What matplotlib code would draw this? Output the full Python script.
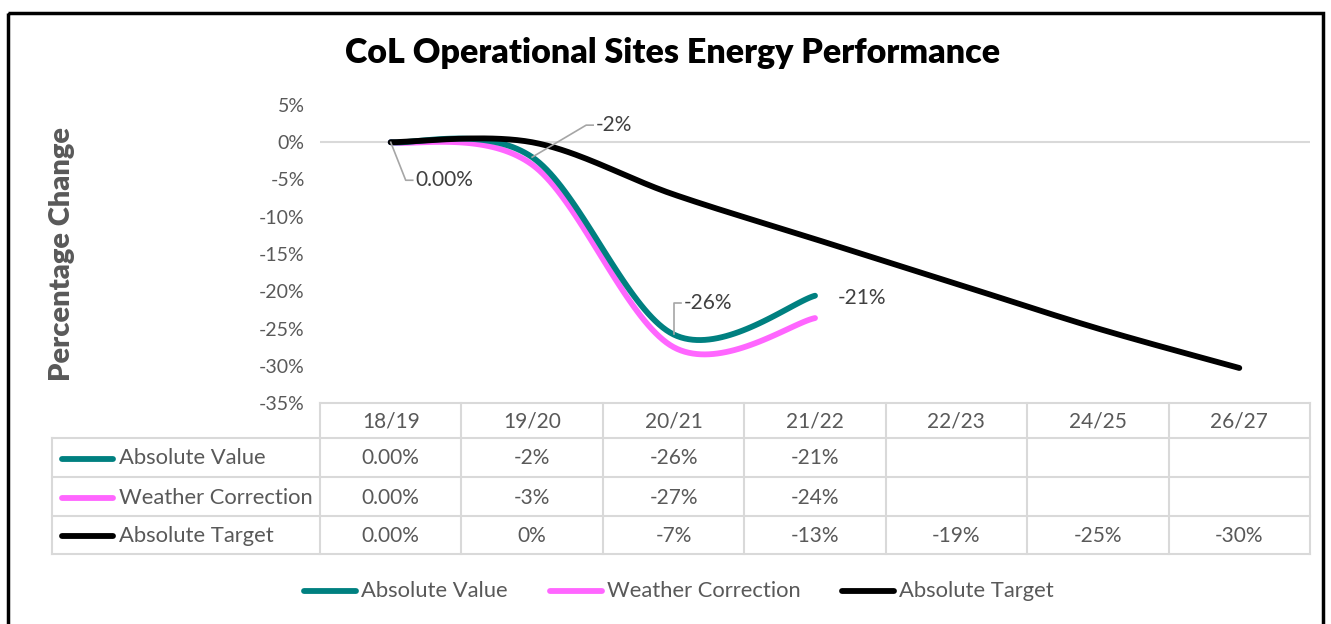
import numpy as np
import matplotlib
matplotlib.use("Agg")
import matplotlib.pyplot as plt
from matplotlib.patches import Rectangle

# ---------------- data ----------------
categories = ["18/19", "19/20", "20/21", "21/22", "22/23", "24/25", "26/27"]
absolute_value = [0.0, -2.0, -25.8, -20.6]
weather_correction = [0.0, -3.0, -27.5, -23.6]
absolute_target = [0.0, 0.0, -7.0, -13.0, -19.0, -25.0, -30.3]
abs_value_labels = ["0.00%", "-2%", "-26%", "-21%", "", "", ""]
weather_labels = ["0.00%", "-3%", "-27%", "-24%", "", "", ""]
target_labels = ["0.00%", "0%", "-7%", "-13%", "-19%", "-25%", "-30%"]
series_names = ["Absolute Value", "Weather Correction", "Absolute Target"]
y_ticks = [5, 0, -5, -10, -15, -20, -25, -30, -35]
title = "CoL Operational Sites Energy Performance"
y_title = "Percentage Change"

colors = ["#008080", "#FF66FF", "#000000"]

body_font = "Lato"
title_font = "Lato"
FS_NAME = 15.8
FS_NUM = 15.0
FS_TICK = 14.0

W, H = 1331, 624
fig = plt.figure(figsize=(W / 100, H / 100), dpi=100)
fig.patch.set_facecolor("white")

# plot area in pixels
L, R, T, B = 320, 1310, 105, 403
ax = fig.add_axes([L / W, 1 - B / H, (R - L) / W, (B - T) / H])
ax.set_xlim(-0.5, len(categories) - 0.5)
ax.set_ylim(-35, 5)
for s in ax.spines.values():
    s.set_visible(False)
ax.set_xticks([])
ax.set_yticks(y_ticks)
ax.set_yticklabels([f"{t}%" for t in y_ticks], fontfamily=body_font,
                   fontsize=FS_TICK, color="#595959")
ax.tick_params(axis="y", length=0, pad=11)
ax.axhline(0, color="#d9d9d9", lw=1.5, zorder=1)
ax.patch.set_alpha(0)


def smooth(xs, ys, n=40):
    P = np.column_stack([xs, ys]).astype(float)
    out = []
    m = len(P)
    for i in range(m - 1):
        p0 = P[max(i - 1, 0)]
        p1 = P[i]
        p2 = P[i + 1]
        p3 = P[min(i + 2, m - 1)]
        c1 = p1 + (p2 - p0) / 6.0
        c2 = p2 - (p3 - p1) / 6.0
        t = np.linspace(0, 1, n)[:, None]
        seg = ((1 - t) ** 3) * p1 + 3 * ((1 - t) ** 2) * t * c1 + 3 * (1 - t) * t ** 2 * c2 + t ** 3 * p2
        out.append(seg if i == 0 else seg[1:])
    return np.vstack(out)

all_series = [absolute_value, weather_correction, absolute_target]
zorders = [4, 3, 5]
for vals, c, z in zip(all_series, colors, zorders):
    xs = np.arange(len(vals))
    pts = smooth(xs, vals)
    ax.plot(pts[:, 0], pts[:, 1], color=c, lw=4.2, solid_capstyle="round", zorder=z)

# data labels (Absolute Value series) with leader lines
lab_col = "#404040"
lead_col = "#a6a6a6"
def label(i, dx, dy, text, leader=True, elbow=10):
    x0, y0 = ax.transData.transform((i, absolute_value[i]))
    tx, ty = x0 + dx, y0 + dy
    if leader:
        fx = tx - np.sign(dx) * elbow
        fig.add_artist(plt.Line2D([x0 / W, fx / W, (tx - np.sign(dx) * 3) / W],
                                  [y0 / H, ty / H, ty / H],
                                  color=lead_col, lw=1.2, transform=fig.transFigure, zorder=6))
    fig.text(tx / W, ty / H, text, ha="left", va="center", fontfamily=body_font,
             fontsize=FS_NUM, color=lab_col)

label(0, 25, -38, abs_value_labels[0])
label(1, 64, 32, abs_value_labels[1])
label(2, 10, 31, abs_value_labels[2])
label(3, 23, -2, abs_value_labels[3], leader=False)

# ---------------- overlay for table, legend, frame ----------------
fa = fig.add_axes([0, 0, 1, 1], zorder=-1)
fa.set_xlim(0, W)
fa.set_ylim(H, 0)
fa.axis("off")

fa.add_patch(Rectangle((8, 13), 1315, 700, fill=False, edgecolor="black", lw=2.5))

grid_c = "#d9d9d9"
cw = (R - L) / len(categories)
row_edges = [403, 438, 477, 516, 554]
tab_left = 52
fa.plot([L, R], [row_edges[0]] * 2, color=grid_c, lw=1.5)
for y in row_edges[1:]:
    fa.plot([tab_left, R], [y, y], color=grid_c, lw=1.5)
for k in range(len(categories) + 1):
    x = L + k * cw
    fa.plot([x, x], [row_edges[0], row_edges[-1]], color=grid_c, lw=1.5)
fa.plot([tab_left, tab_left], [row_edges[1], row_edges[-1]], color=grid_c, lw=1.5)

txt_c = "#595959"
for k, cat in enumerate(categories):
    cx = L + (k + 0.5) * cw
    fa.text(cx, (row_edges[0] + row_edges[1]) / 2 + 1, cat, ha="center", va="center",
            fontfamily=body_font, fontsize=FS_NUM, color=txt_c)
row_labels = [abs_value_labels, weather_labels, target_labels]
for r, (name, labs, c) in enumerate(zip(series_names, row_labels, colors)):
    cy = (row_edges[r + 1] + row_edges[r + 2]) / 2 + 1
    fa.plot([62, 113], [cy, cy], color=c, lw=4.2, solid_capstyle="round")
    fa.text(119, cy, name, ha="left", va="center", fontfamily=body_font,
            fontsize=FS_NAME, color=txt_c)
    for k, t in enumerate(labs):
        if t:
            fa.text(L + (k + 0.5) * cw, cy, t, ha="center", va="center",
                    fontfamily=body_font, fontsize=FS_NUM, color=txt_c)

# legend
leg_y = 591
leg_x = [304, 550, 842]
for name, c, x in zip(series_names, colors, leg_x):
    fa.plot([x, x + 52], [leg_y, leg_y], color=c, lw=4.2, solid_capstyle="round")
    fa.text(x + 57, leg_y, name, ha="left", va="center", fontfamily=body_font,
            fontsize=FS_NAME, color=txt_c)

# titles
fa.text(673, 53, title, ha="center", va="center", fontfamily=title_font,
        fontweight="heavy", fontsize=24.5, color="black")
fa.text(62, 254, y_title, ha="center", va="center", rotation=90,
        fontfamily=title_font, fontweight="heavy", fontsize=21, color="#595959")

fig.savefig("out.png", dpi=100)
